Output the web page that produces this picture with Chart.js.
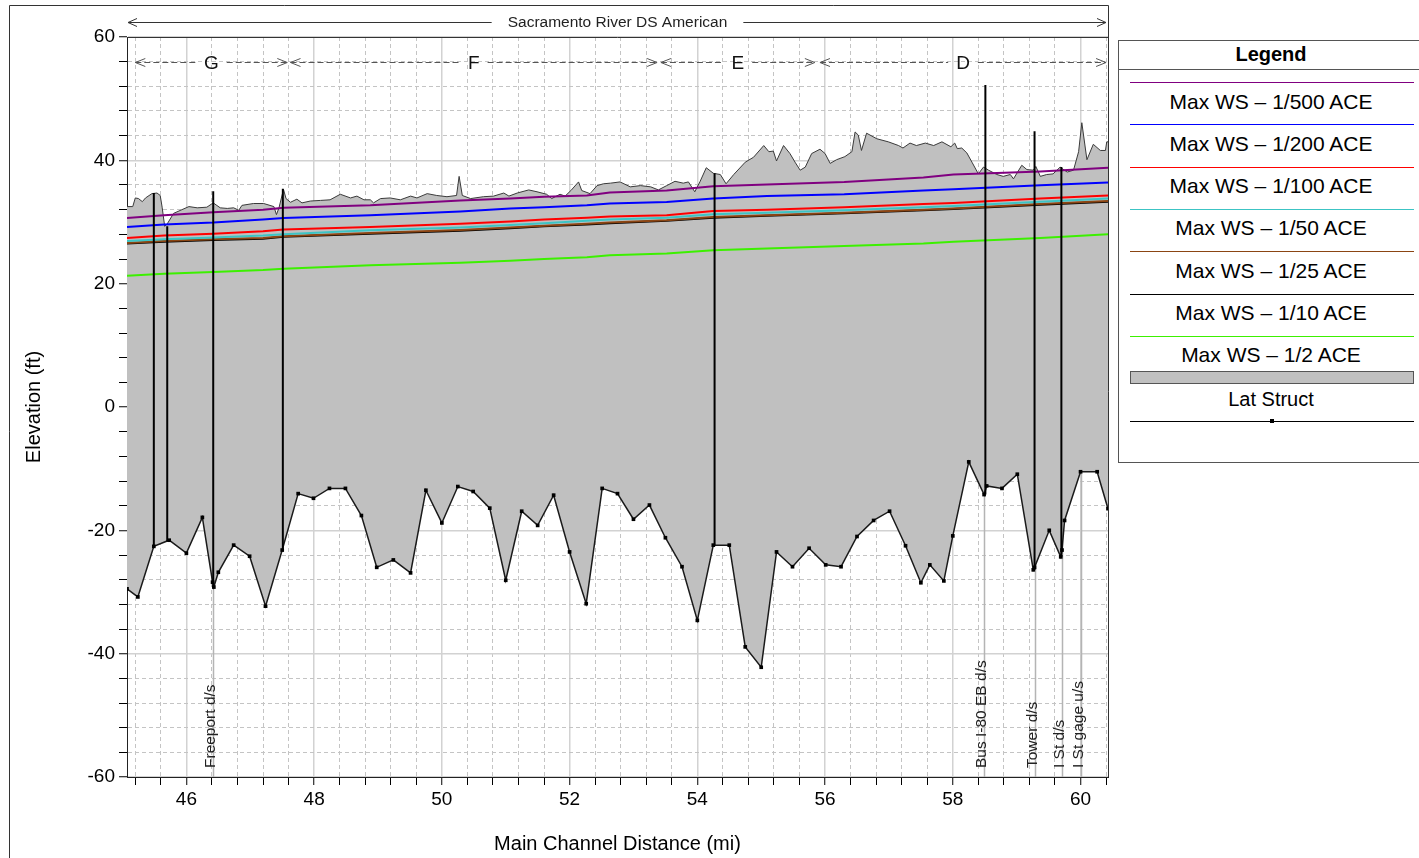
<!DOCTYPE html>
<html>
<head>
<meta charset="utf-8">
<script src="https://cdn.jsdelivr.net/npm/chart.js@4.4.0/dist/chart.umd.min.js"></script>
<style>
  html, body { margin: 0; padding: 0; background: #fff; }
  #wrap { position: relative; width: 1419px; height: 858px; overflow: hidden; }
  #chart { position: absolute; left: 0; top: 0; }
  #legend { position: absolute; left: 1118px; top: 40px; width: 330px; height: 421px;
            border: 1px solid #555; background: #fff; font-family: "Liberation Sans", Arial, sans-serif; }
  #legend .t { position: absolute; left: 0; width: 304px; text-align: center; color: #000; line-height: 1; }
  #legend .ln { position: absolute; left: 11px; width: 284px; height: 1px; }
</style>
</head>
<body>
<div id="wrap">
  <canvas id="chart" width="1419" height="858"></canvas>
  <div id="legend"></div>
</div>
<script>
const FONT = '"Liberation Sans", Arial, sans-serif';

// water surface profiles (ft) at these stations (mi)
const wsStations = [45.07, 45.65, 46.42, 47.2, 47.52, 48.88, 50.29, 51.07, 51.6, 52.27, 52.63, 53.52, 54.25, 55.09, 56.3, 57.54, 58.01, 59.37, 60.43];
const ws500 = [30.65, 31.1, 31.6, 32.0, 32.3, 32.7, 33.5, 33.8, 34.1, 34.3, 34.8, 35.1, 35.8, 36.1, 36.5, 37.2, 37.7, 38.2, 38.8];
const ws200 = [29.2, 29.6, 29.9, 30.4, 30.65, 31.1, 31.7, 32.2, 32.4, 32.7, 33.0, 33.25, 33.8, 34.2, 34.5, 35.1, 35.3, 35.95, 36.4];
const ws100 = [27.4, 27.8, 28.1, 28.5, 28.8, 29.2, 29.7, 30.1, 30.4, 30.7, 30.9, 31.1, 31.8, 32.0, 32.4, 32.9, 33.1, 33.8, 34.3];
const ws50 = [26.9, 27.2, 27.5, 27.8, 28.0, 28.65, 29.1, 29.5, 29.8, 30.2, 30.4, 30.7, 31.25, 31.5, 31.9, 32.4, 32.6, 33.3, 33.8];
const ws25 = [26.6, 26.9, 27.2, 27.4, 27.7, 28.2, 28.7, 29.1, 29.4, 29.7, 29.9, 30.3, 30.8, 31.1, 31.5, 32.0, 32.2, 32.9, 33.4];
const ws10 = [26.5, 26.8, 27.1, 27.3, 27.6, 28.1, 28.6, 29.0, 29.3, 29.6, 29.8, 30.2, 30.7, 31.0, 31.4, 31.9, 32.1, 32.8, 33.3];
const ws2 = [21.3, 21.6, 21.9, 22.2, 22.4, 23.0, 23.4, 23.7, 24.0, 24.3, 24.6, 24.9, 25.4, 25.7, 26.1, 26.5, 26.8, 27.4, 28.0];

// channel invert (ground)
const groundStations = [45.07, 45.24, 45.49, 45.73, 46.0, 46.25, 46.41, 46.43, 46.5, 46.74, 46.99, 47.24, 47.5, 47.75, 47.99, 48.24, 48.49, 48.74, 48.98, 49.24, 49.51, 49.75, 50.0, 50.25, 50.49, 50.75, 51.0, 51.25, 51.5, 51.75, 52.0, 52.26, 52.51, 52.75, 53.0, 53.25, 53.5, 53.76, 54.0, 54.25, 54.5, 54.75, 55.0, 55.24, 55.49, 55.75, 56.01, 56.25, 56.5, 56.76, 57.01, 57.26, 57.5, 57.64, 57.86, 58.0, 58.25, 58.49, 58.53, 58.77, 59.01, 59.26, 59.28, 59.51, 59.69, 59.71, 59.75, 60.0, 60.26, 60.43];
const groundElev = [-29.5, -30.8, -22.6, -21.6, -23.7, -17.9, -28.4, -29.2, -26.8, -22.4, -24.2, -32.3, -23.2, -14.05, -14.8, -13.2, -13.2, -17.6, -26.0, -24.8, -26.9, -13.5, -18.8, -12.9, -13.7, -16.4, -28.1, -16.9, -19.2, -14.3, -23.5, -31.9, -13.2, -14.05, -18.2, -15.9, -21.2, -25.9, -34.6, -22.4, -22.4, -38.9, -42.2, -23.5, -25.9, -22.9, -25.6, -25.9, -21.0, -18.4, -16.9, -22.5, -28.5, -25.6, -28.2, -20.9, -8.9, -14.2, -12.8, -13.2, -10.9, -26.4, -26.0, -20.0, -24.3, -23.2, -18.4, -10.5, -10.5, -16.5];

// lateral structure crest
const latStations = [45.07, 45.16, 45.2, 45.25, 45.31, 45.36, 45.46, 45.54, 45.59, 45.62, 45.66, 45.7, 45.8, 45.93, 46.04, 46.17, 46.32, 46.42, 46.53, 46.64, 46.74, 46.82, 46.87, 47.05, 47.21, 47.37, 47.41, 47.45, 47.52, 47.56, 47.63, 47.73, 47.81, 47.94, 48.1, 48.25, 48.41, 48.57, 48.67, 48.78, 48.88, 48.93, 49.04, 49.19, 49.35, 49.51, 49.61, 49.77, 49.92, 50.08, 50.23, 50.27, 50.32, 50.45, 50.65, 50.81, 50.97, 51.05, 51.18, 51.36, 51.49, 51.64, 51.72, 51.85, 51.93, 52.02, 52.14, 52.19, 52.32, 52.43, 52.53, 52.64, 52.79, 52.95, 53.11, 53.27, 53.39, 53.52, 53.65, 53.78, 53.86, 53.96, 54.04, 54.14, 54.25, 54.36, 54.45, 54.57, 54.75, 54.88, 55.04, 55.12, 55.19, 55.24, 55.35, 55.45, 55.53, 55.61, 55.69, 55.79, 55.92, 56.0, 56.08, 56.18, 56.31, 56.42, 56.47, 56.52, 56.57, 56.65, 56.81, 56.99, 57.15, 57.22, 57.33, 57.43, 57.57, 57.7, 57.83, 57.97, 58.03, 58.07, 58.14, 58.22, 58.3, 58.4, 58.48, 58.56, 58.69, 58.79, 58.9, 58.95, 59.08, 59.16, 59.26, 59.3, 59.37, 59.47, 59.57, 59.68, 59.79, 59.89, 59.97, 60.02, 60.1, 60.2, 60.31, 60.39, 60.41, 60.43];
const latElev = [32.5, 32.5, 33.9, 33.8, 33.3, 33.9, 34.6, 34.7, 34.3, 32.4, 29.3, 29.7, 31.4, 32.0, 32.5, 32.3, 32.4, 33.1, 32.3, 32.2, 32.3, 31.9, 32.7, 33.0, 33.0, 32.5, 31.2, 32.3, 35.3, 33.8, 33.2, 33.7, 33.1, 33.4, 33.5, 33.6, 34.5, 33.9, 34.2, 33.6, 33.6, 33.1, 33.8, 33.9, 33.6, 34.2, 33.9, 34.6, 34.3, 34.1, 34.3, 37.4, 34.3, 33.8, 34.1, 34.2, 34.7, 34.2, 34.7, 35.2, 34.9, 34.5, 33.8, 34.5, 34.2, 35.1, 36.5, 35.1, 34.6, 35.9, 36.2, 36.3, 36.5, 35.7, 35.9, 35.7, 35.2, 35.9, 36.6, 36.3, 36.5, 34.9, 36.5, 38.8, 37.9, 37.7, 36.2, 37.7, 39.7, 40.5, 42.4, 41.4, 41.5, 39.9, 42.4, 41.1, 39.7, 38.4, 38.9, 41.1, 41.8, 41.1, 39.5, 40.1, 40.6, 41.4, 44.6, 44.1, 41.6, 44.4, 43.5, 43.0, 42.4, 42.0, 42.8, 42.4, 42.8, 42.4, 43.0, 42.2, 42.8, 41.9, 42.0, 41.2, 39.7, 37.8, 38.9, 38.4, 37.7, 37.4, 37.7, 37.0, 39.2, 38.5, 38.4, 39.0, 37.4, 37.7, 37.8, 38.9, 38.1, 38.4, 41.4, 46.1, 40.1, 42.6, 41.6, 41.6, 43.0, 43.0];

// bridges / inline structures
const structStations = [45.49, 45.7, 46.42, 47.51, 54.27, 58.51, 59.28, 59.7];
const structTop = [34.7, 29.3, 35.0, 35.4, 37.9, 52.2, 44.7, 38.9];
const structBottom = [-22.6, -21.8, -29.2, -23.2, -22.4, -14.2, -26.4, -24.3];

const labelStations = [46.42, 58.49, 59.29, 59.71, 60.0];
const labelTexts = ['Freeport d/s', 'Bus I-80 EB d/s', 'Tower d/s', 'I St d/s', 'I St gage u/s'];

const reachNames = ['G', 'F', 'E', 'D'];
const reachStart = [45.2, 47.63, 53.43, 55.92];
const reachEnd = [47.58, 53.37, 55.84, 60.4];
const reachElev = 56;
const riverName = 'Sacramento River DS American';

const xMin = 45.07, xMax = 60.43;

const pts = (xs, ys) => xs.map((x, i) => ({ x: x, y: ys[i] }));
const isMajor = (v, step) => Math.abs(v / step - Math.round(v / step)) < 1e-6;

const wsNames = ['Max WS \u2013 1/500 ACE', 'Max WS \u2013 1/200 ACE', 'Max WS \u2013 1/100 ACE', 'Max WS \u2013 1/50 ACE', 'Max WS \u2013 1/25 ACE', 'Max WS \u2013 1/10 ACE', 'Max WS \u2013 1/2 ACE'];
const wsSeries = [ws500, ws200, ws100, ws50, ws25, ws10, ws2];
const wsColors = ['#800080', '#0000ff', '#ff0000', '#3cc4c4', '#8b4513', '#000000', '#3cf000'];

const datasets = [{
  label: 'Ground',
  data: pts(groundStations, groundElev),
  borderColor: '#1a1a1a', borderWidth: 1.5,
  pointStyle: 'rect', pointRadius: 2.6, pointBackgroundColor: '#000', pointBorderWidth: 0,
  fill: false
}];
wsSeries.forEach((s, i) => {
  datasets.push({
    label: wsNames[i], data: pts(wsStations, s),
    borderColor: wsColors[i], borderWidth: 2, pointRadius: 0, fill: false
  });
});
datasets.push({
  label: 'Lat Struct',
  data: pts(latStations, latElev),
  borderColor: '#3a3a3a', borderWidth: 1, pointRadius: 0,
  backgroundColor: '#c0c0c0', fill: { target: 0 }
});

const extras = {
  id: 'extras',
  beforeDatasetsDraw(chart) {
    // light guide lines below the labelled structures (hidden by the fill above ground)
    const { ctx, chartArea: a, scales: { x, y } } = chart;
    ctx.save();
    ctx.strokeStyle = '#b4b4b4';
    ctx.lineWidth = 1.5;
    labelStations.forEach(s => {
      const px = Math.round(x.getPixelForValue(s)) + 0.5;
      ctx.beginPath(); ctx.moveTo(px, a.bottom); ctx.lineTo(px, y.getPixelForValue(0)); ctx.stroke();
    });
    ctx.restore();
  },
  afterDatasetsDraw(chart) {
    const { ctx, chartArea: a, scales: { x, y } } = chart;
    ctx.save();
    // structures
    ctx.strokeStyle = '#000';
    ctx.lineWidth = 2;
    structStations.forEach((s, i) => {
      const px = x.getPixelForValue(s);
      ctx.beginPath();
      ctx.moveTo(px, y.getPixelForValue(structBottom[i]));
      ctx.lineTo(px, y.getPixelForValue(structTop[i]));
      ctx.stroke();
    });
    // structure labels
    ctx.fillStyle = '#222';
    ctx.font = '15.5px ' + FONT;
    ctx.textAlign = 'left';
    ctx.textBaseline = 'alphabetic';
    labelStations.forEach((s, i) => {
      const px = x.getPixelForValue(s) + 2;
      ctx.save();
      ctx.translate(px, a.bottom - 9);
      ctx.rotate(-Math.PI / 2);
      ctx.fillText(labelTexts[i], 0, 0);
      ctx.restore();
    });
    // reach arrows
    const ry = Math.round(y.getPixelForValue(reachElev)) + 0.5;
    ctx.font = '19px ' + FONT;
    ctx.textAlign = 'center';
    ctx.textBaseline = 'middle';
    reachNames.forEach((n, i) => {
      const x0 = x.getPixelForValue(reachStart[i]);
      const x1 = x.getPixelForValue(reachEnd[i]);
      const mid = (x0 + x1) / 2;
      const half = ctx.measureText(n).width / 2 + 8;
      ctx.strokeStyle = '#555';
      ctx.lineWidth = 1;
      ctx.setLineDash([6, 3]);
      ctx.beginPath();
      ctx.moveTo(x0, ry); ctx.lineTo(mid - half, ry);
      ctx.moveTo(mid + half, ry); ctx.lineTo(x1, ry);
      ctx.stroke();
      ctx.setLineDash([]);
      ctx.beginPath();
      ctx.moveTo(x0 + 10, ry - 4); ctx.lineTo(x0, ry); ctx.lineTo(x0 + 10, ry + 4);
      ctx.moveTo(x1 - 10, ry - 4); ctx.lineTo(x1, ry); ctx.lineTo(x1 - 10, ry + 4);
      ctx.stroke();
      ctx.fillStyle = '#111';
      ctx.fillText(n, mid, ry + 1);
    });
    ctx.restore();
  },
  afterDraw(chart) {
    const { ctx, chartArea: a } = chart;
    ctx.save();
    ctx.strokeStyle = '#333';
    ctx.lineWidth = 1;
    // outer frame
    ctx.beginPath();
    ctx.moveTo(9.5, 858); ctx.lineTo(9.5, 5.5); ctx.lineTo(a.right + 0.5, 5.5);
    ctx.lineTo(a.right + 0.5, a.bottom);
    ctx.moveTo(a.left, a.top + 0.5); ctx.lineTo(a.right, a.top + 0.5);
    ctx.stroke();
    // river reach line
    const ty = 22.5;
    ctx.font = '15.5px ' + FONT;
    ctx.fillStyle = '#222';
    ctx.textAlign = 'center';
    ctx.textBaseline = 'middle';
    const cx = (a.left + a.right) / 2;
    const hw = ctx.measureText(riverName).width / 2 + 16;
    ctx.fillText(riverName, cx, ty);
    ctx.beginPath();
    ctx.moveTo(a.left + 1, ty); ctx.lineTo(cx - hw, ty);
    ctx.moveTo(cx + hw, ty); ctx.lineTo(a.right - 2, ty);
    ctx.moveTo(a.left + 10, ty - 4); ctx.lineTo(a.left + 1, ty); ctx.lineTo(a.left + 10, ty + 4);
    ctx.moveTo(a.right - 11, ty - 4); ctx.lineTo(a.right - 2, ty); ctx.lineTo(a.right - 11, ty + 4);
    ctx.stroke();
    ctx.restore();
  }
};

new Chart(document.getElementById('chart'), {
  type: 'line',
  data: { datasets: datasets },
  options: {
    responsive: false,
    animation: false,
    layout: { padding: { left: 0, top: 37, right: 311, bottom: 0 } },
    elements: { line: { tension: 0 } },
    plugins: { legend: { display: false }, tooltip: { enabled: false } },
    scales: {
      x: {
        type: 'linear', min: xMin, max: xMax,
        afterFit: s => { s.height = 81; },
        ticks: {
          stepSize: 0.4, includeBounds: false, autoSkip: false, maxRotation: 0, padding: 3,
          color: '#000', font: { family: FONT, size: 19 },
          callback: v => isMajor(v, 2) ? String(Math.round(v)) : ''
        },
        grid: {
          color: c => (c.tick && isMajor(c.tick.value, 2)) ? '#d2d2d2' : '#c4c4c4',
          lineWidth: c => (c.tick && isMajor(c.tick.value, 2)) ? 1.5 : 1,
          tickLength: 8, tickColor: '#000', tickWidth: 1
        },
        border: {
          display: true, color: '#222', width: 1,
          dash: c => (c.tick && !isMajor(c.tick.value, 2)) ? [4, 3] : []
        },
        title: { display: true, text: 'Main Channel Distance (mi)', color: '#000', font: { family: FONT, size: 20 }, padding: { top: 0, bottom: 2 } }
      },
      y: {
        min: -60, max: 60,
        afterFit: s => { s.width = 127; },
        ticks: {
          stepSize: 4, includeBounds: false, autoSkip: false, padding: 4,
          color: '#000', font: { family: FONT, size: 19 },
          callback: v => isMajor(v, 20) ? String(Math.round(v)) : ''
        },
        grid: {
          color: c => (c.tick && isMajor(c.tick.value, 20)) ? '#d2d2d2' : '#c4c4c4',
          lineWidth: c => (c.tick && isMajor(c.tick.value, 20)) ? 1.5 : 1,
          tickLength: 8, tickColor: '#000', tickWidth: 1
        },
        border: {
          display: true, color: '#222', width: 1,
          dash: c => (c.tick && !isMajor(c.tick.value, 20)) ? [4, 3] : []
        },
        title: { display: true, text: 'Elevation (ft)', color: '#000', font: { family: FONT, size: 20 }, padding: { top: 22, bottom: 0 } }
      }
    }
  },
  plugins: [extras]
});

// legend box
const legend = document.getElementById('legend');
function addText(txt, centerY, size, bold) {
  const d = document.createElement('div');
  d.className = 't';
  d.textContent = txt;
  d.style.fontSize = size + 'px';
  d.style.top = (centerY - size / 2) + 'px';
  if (bold) d.style.fontWeight = 'bold';
  legend.appendChild(d);
}
function addLine(topY, color, h) {
  const d = document.createElement('div');
  d.className = 'ln';
  d.style.top = topY + 'px';
  d.style.background = color;
  if (h) { d.style.height = h + 'px'; }
  legend.appendChild(d);
  return d;
}
addText('Legend', 13, 20, true);
const sep = document.createElement('div');
sep.style.cssText = 'position:absolute;left:0;top:28px;width:100%;height:1px;background:#555;';
legend.appendChild(sep);
wsNames.forEach((n, i) => {
  const ly = 41 + i * 42.3;
  addLine(Math.round(ly), wsColors[i]);
  addText(n, ly + 19, 21, false);
});
const box = addLine(330, '#c0c0c0', 13);
box.style.border = '1px solid #555';
box.style.boxSizing = 'border-box';
addText('Lat Struct', 358, 20, false);
addLine(380, '#000');
const mk = document.createElement('div');
mk.style.cssText = 'position:absolute;left:151px;top:378px;width:4px;height:4px;background:#000;';
legend.appendChild(mk);
</script>
</body>
</html>
